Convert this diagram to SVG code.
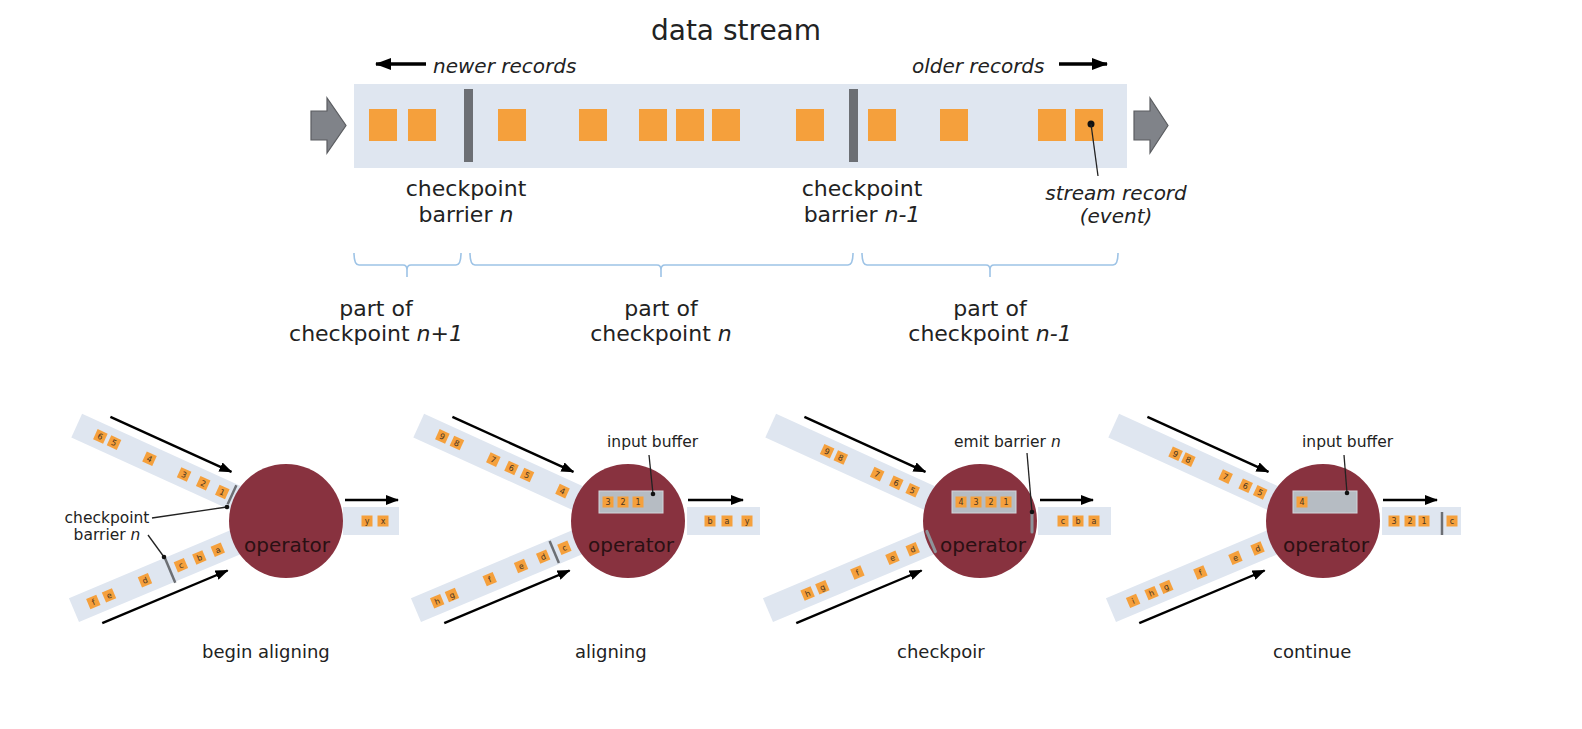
<svg xmlns="http://www.w3.org/2000/svg" xmlns:xlink="http://www.w3.org/1999/xlink" width="1582" height="729" viewBox="0 0 1582 729">
<style>
text{font-family:"DejaVu Sans","Liberation Sans",sans-serif;fill:#222}
.title{font-size:28px;text-anchor:middle}
.lbl{font-size:22px;text-anchor:middle}
.it{font-style:italic}
.note{font-size:20px;font-style:italic}
.small{font-size:15.5px}
.cap{font-size:18px}
.op{font-size:20px;text-anchor:middle;fill:#2a1013}
.sl{font-size:8px;text-anchor:middle;fill:#4a3520}
.band{fill:#dfe6f0}
.rec{fill:#f5a03c}
.sq{fill:#f5a03c}
.bar{fill:#6c6f74}
.barl{stroke:#6c6f74;stroke-width:2.5;fill:none}
.barlite{stroke:#8e939a;stroke-width:3;fill:none;stroke-linecap:round}
.brace{fill:none;stroke:#9dc3e6;stroke-width:1.6}
.arr{stroke:#000;stroke-width:2.4;fill:none;marker-end:url(#ah)}
.arrT{stroke:#000;stroke-width:3.5;fill:none;marker-end:url(#ahT)}
.lead{stroke:#222;stroke-width:1.3;fill:none}
.dot{fill:#111}
.op-c{fill:#88323f}
.buf{fill:#b6bcc3;stroke:#d2d6db;stroke-width:1}
.garrow{fill:#808389;stroke:#5b5d61;stroke-width:1.2}
</style>
<defs>
<marker id="ah" markerUnits="userSpaceOnUse" markerWidth="13" markerHeight="10" refX="12" refY="5" orient="auto">
<path d="M0,0 L13,5 L0,10 Z" fill="#000"/>
</marker>
<marker id="ahT" markerUnits="userSpaceOnUse" markerWidth="16" markerHeight="12" refX="15" refY="6" orient="auto">
<path d="M0,0 L16,6 L0,12 Z" fill="#000"/>
</marker>
<g id="upperIn">
<rect class="band" x="-230" y="-13" width="195" height="26"/>
<line class="arr" x1="-203" y1="-22" x2="-70" y2="-22"/>
</g>
<g id="lowerIn">
<rect class="band" x="-230" y="-13" width="195" height="26"/>
<line class="arr" x1="-209" y1="23" x2="-73" y2="23"/>
</g>
<g id="sqr"><rect class="sq" x="-5.5" y="-5.5" width="11" height="11"/></g>
</defs>

<!-- top: data stream -->
<g id="stream">
<text class="title" x="736" y="40">data stream</text>
<rect class="band" x="354" y="84" width="773" height="84"/>
<polygon class="garrow" points="311,111 327,111 327,98 346,125.5 327,153 327,140 311,140"/>
<polygon class="garrow" points="1134,111 1150,111 1150,98 1168,125.5 1150,153 1150,140 1134,140"/>
<g id="records">
<rect class="rec" x="369" y="109" width="28" height="32"/>
<rect class="rec" x="408" y="109" width="28" height="32"/>
<rect class="rec" x="498" y="109" width="28" height="32"/>
<rect class="rec" x="579" y="109" width="28" height="32"/>
<rect class="rec" x="639" y="109" width="28" height="32"/>
<rect class="rec" x="676" y="109" width="28" height="32"/>
<rect class="rec" x="712" y="109" width="28" height="32"/>
<rect class="rec" x="796" y="109" width="28" height="32"/>
<rect class="rec" x="868" y="109" width="28" height="32"/>
<rect class="rec" x="940" y="109" width="28" height="32"/>
<rect class="rec" x="1038" y="109" width="28" height="32"/>
<rect class="rec" x="1075" y="109" width="28" height="32"/>
</g>
<rect id="barrier-n" class="bar" x="464" y="89" width="9" height="73"/>
<rect id="barrier-n1" class="bar" x="849" y="89" width="9" height="73"/>
</g>

<g id="newer">
<line class="arrT" x1="426" y1="64" x2="376" y2="64"/>
<text class="note" x="433" y="73">newer records</text>
</g>
<g id="older">
<text class="note" x="912" y="73">older records</text>
<line class="arrT" x1="1059" y1="64" x2="1107" y2="64"/>
</g>

<g id="lbl-barrier-n">
<text class="lbl" x="466" y="196">checkpoint</text>
<text class="lbl" x="466" y="222">barrier <tspan class="it">n</tspan></text>
</g>
<g id="lbl-barrier-n1">
<text class="lbl" x="862" y="196">checkpoint</text>
<text class="lbl" x="862" y="222">barrier <tspan class="it">n-1</tspan></text>
</g>
<g id="lbl-record">
<circle class="dot" cx="1091" cy="124" r="3.5"/>
<line class="lead" x1="1091" y1="124" x2="1098" y2="176"/>
<text class="note" x="1116" y="200" text-anchor="middle">stream record</text>
<text class="note" x="1116" y="223" text-anchor="middle">(event)</text>
</g>

<g id="braces">
<path class="brace" d="M354,253 Q354,265 359,265 H403 Q407,265 407,270 V277 M407,270 Q407,265 411,265 H456 Q461,265 461,253"/>
<path class="brace" d="M470,253 Q470,265 475,265 H657 Q661,265 661,270 V277 M661,270 Q661,265 665,265 H848 Q853,265 853,253"/>
<path class="brace" d="M862,253 Q862,265 867,265 H986 Q990,265 990,270 V277 M990,270 Q990,265 994,265 H1113 Q1118,265 1118,253"/>
</g>
<g id="part-n1">
<text class="lbl" x="376" y="316">part of</text>
<text class="lbl" x="376" y="341">checkpoint <tspan class="it">n+1</tspan></text>
</g>
<g id="part-n">
<text class="lbl" x="661" y="316">part of</text>
<text class="lbl" x="661" y="341">checkpoint <tspan class="it">n</tspan></text>
</g>
<g id="part-nm1">
<text class="lbl" x="990" y="316">part of</text>
<text class="lbl" x="990" y="341">checkpoint <tspan class="it">n-1</tspan></text>
</g>

<!-- panel 1: begin aligning -->
<g id="panel-begin" transform="translate(286,521)">
<g transform="rotate(24.5)">
<use xlink:href="#upperIn"/>
<g transform="translate(-204,0)"><use xlink:href="#sqr"/><text class="sl" y="3">6</text></g>
<g transform="translate(-189,0)"><use xlink:href="#sqr"/><text class="sl" y="3">5</text></g>
<g transform="translate(-150,0)"><use xlink:href="#sqr"/><text class="sl" y="3">4</text></g>
<g transform="translate(-112,0)"><use xlink:href="#sqr"/><text class="sl" y="3">3</text></g>
<g transform="translate(-91,0)"><use xlink:href="#sqr"/><text class="sl" y="3">2</text></g>
<g transform="translate(-70,0)"><use xlink:href="#sqr"/><text class="sl" y="3">1</text></g>
<line class="barl" x1="-60" y1="-12" x2="-60" y2="9"/>
</g>
<g transform="rotate(-22.8)">
<use xlink:href="#lowerIn"/>
<g transform="translate(-209,0)"><use xlink:href="#sqr"/><text class="sl" y="3">f</text></g>
<g transform="translate(-192,0)"><use xlink:href="#sqr"/><text class="sl" y="3">e</text></g>
<g transform="translate(-153,0)"><use xlink:href="#sqr"/><text class="sl" y="3">d</text></g>
<g transform="translate(-114,0)"><use xlink:href="#sqr"/><text class="sl" y="3">c</text></g>
<g transform="translate(-94,0)"><use xlink:href="#sqr"/><text class="sl" y="3">b</text></g>
<g transform="translate(-74,0)"><use xlink:href="#sqr"/><text class="sl" y="3">a</text></g>
<line class="barl" x1="-126" y1="-13" x2="-126" y2="14"/>
</g>
<rect class="band" x="57" y="-14" width="56" height="28"/>
<line class="arr" x1="59" y1="-21" x2="112" y2="-21"/>
<g transform="translate(81,0)"><use xlink:href="#sqr"/><text class="sl" y="3">y</text></g>
<g transform="translate(97,0)"><use xlink:href="#sqr"/><text class="sl" y="3">x</text></g>
<circle class="op-c" cx="0" cy="0" r="57"/>
<text class="op" x="1" y="31">operator</text>
</g>
<g id="callout-barrier">
<text class="small" x="107" y="523" text-anchor="middle">checkpoint</text>
<text class="small" x="107" y="540" text-anchor="middle">barrier <tspan class="it">n</tspan></text>
<line class="lead" x1="152" y1="518" x2="227" y2="507"/>
<circle class="dot" cx="227" cy="507" r="2.3"/>
<line class="lead" x1="148" y1="535" x2="164" y2="557"/>
<circle class="dot" cx="164" cy="557" r="2.3"/>
</g>
<text id="cap-begin" class="cap" x="202" y="658">begin aligning</text>

<!-- panel 2: aligning -->
<g id="panel-aligning" transform="translate(628,521)">
<g transform="rotate(24.5)">
<use xlink:href="#upperIn"/>
<g transform="translate(-204,0)"><use xlink:href="#sqr"/><text class="sl" y="3">9</text></g>
<g transform="translate(-188,0)"><use xlink:href="#sqr"/><text class="sl" y="3">8</text></g>
<g transform="translate(-148,0)"><use xlink:href="#sqr"/><text class="sl" y="3">7</text></g>
<g transform="translate(-128,0)"><use xlink:href="#sqr"/><text class="sl" y="3">6</text></g>
<g transform="translate(-111,0)"><use xlink:href="#sqr"/><text class="sl" y="3">5</text></g>
<g transform="translate(-72,0)"><use xlink:href="#sqr"/><text class="sl" y="3">4</text></g>
</g>
<g transform="rotate(-22.8)">
<use xlink:href="#lowerIn"/>
<g transform="translate(-207,0)"><use xlink:href="#sqr"/><text class="sl" y="3">h</text></g>
<g transform="translate(-191,0)"><use xlink:href="#sqr"/><text class="sl" y="3">g</text></g>
<g transform="translate(-150,0)"><use xlink:href="#sqr"/><text class="sl" y="3">f</text></g>
<g transform="translate(-116,0)"><use xlink:href="#sqr"/><text class="sl" y="3">e</text></g>
<g transform="translate(-92,0)"><use xlink:href="#sqr"/><text class="sl" y="3">d</text></g>
<g transform="translate(-69,0)"><use xlink:href="#sqr"/><text class="sl" y="3">c</text></g>
<line class="barl" x1="-80" y1="-12" x2="-80" y2="12"/>
</g>
<rect class="band" x="59" y="-14" width="73" height="28"/>
<line class="arr" x1="60" y1="-21" x2="115" y2="-21"/>
<g transform="translate(82,0)"><use xlink:href="#sqr"/><text class="sl" y="3">b</text></g>
<g transform="translate(99,0)"><use xlink:href="#sqr"/><text class="sl" y="3">a</text></g>
<g transform="translate(119,0)"><use xlink:href="#sqr"/><text class="sl" y="3">y</text></g>
<circle class="op-c" cx="0" cy="0" r="57"/>
<rect class="buf" x="-29" y="-30" width="64" height="22"/>
<g transform="translate(-20,-19)"><use xlink:href="#sqr"/><text class="sl" y="3">3</text></g>
<g transform="translate(-5,-19)"><use xlink:href="#sqr"/><text class="sl" y="3">2</text></g>
<g transform="translate(10,-19)"><use xlink:href="#sqr"/><text class="sl" y="3">1</text></g>
<line class="lead" x1="21" y1="-66" x2="25" y2="-27"/>
<circle class="dot" cx="25" cy="-27" r="2.3"/>
<text class="small" x="-21" y="-74">input buffer</text>
<text class="op" x="3" y="31">operator</text>
</g>
<text id="cap-aligning" class="cap" x="575" y="658">aligning</text>

<!-- panel 3: checkpoint -->
<g id="panel-checkpoint" transform="translate(980,521)">
<g transform="rotate(24.5)">
<use xlink:href="#upperIn"/>
<g transform="translate(-168,0)"><use xlink:href="#sqr"/><text class="sl" y="3">9</text></g>
<g transform="translate(-153,0)"><use xlink:href="#sqr"/><text class="sl" y="3">8</text></g>
<g transform="translate(-113,0)"><use xlink:href="#sqr"/><text class="sl" y="3">7</text></g>
<g transform="translate(-92,0)"><use xlink:href="#sqr"/><text class="sl" y="3">6</text></g>
<g transform="translate(-74,0)"><use xlink:href="#sqr"/><text class="sl" y="3">5</text></g>
</g>
<g transform="rotate(-22.8)">
<use xlink:href="#lowerIn"/>
<g transform="translate(-187,0)"><use xlink:href="#sqr"/><text class="sl" y="3">h</text></g>
<g transform="translate(-171,0)"><use xlink:href="#sqr"/><text class="sl" y="3">g</text></g>
<g transform="translate(-133,0)"><use xlink:href="#sqr"/><text class="sl" y="3">f</text></g>
<g transform="translate(-95,0)"><use xlink:href="#sqr"/><text class="sl" y="3">e</text></g>
<g transform="translate(-73,0)"><use xlink:href="#sqr"/><text class="sl" y="3">d</text></g>
</g>
<rect class="band" x="58" y="-14" width="73" height="28"/>
<line class="arr" x1="60" y1="-21" x2="113" y2="-21"/>
<g transform="translate(83,0)"><use xlink:href="#sqr"/><text class="sl" y="3">c</text></g>
<g transform="translate(98,0)"><use xlink:href="#sqr"/><text class="sl" y="3">b</text></g>
<g transform="translate(114,0)"><use xlink:href="#sqr"/><text class="sl" y="3">a</text></g>
<circle class="op-c" cx="0" cy="0" r="57"/>
<g transform="rotate(-22.8)"><line class="barlite" x1="-53" y1="-11" x2="-53" y2="11"/></g>
<rect class="buf" x="-28" y="-30" width="64" height="22"/>
<g transform="translate(-19,-19)"><use xlink:href="#sqr"/><text class="sl" y="3">4</text></g>
<g transform="translate(-4,-19)"><use xlink:href="#sqr"/><text class="sl" y="3">3</text></g>
<g transform="translate(11,-19)"><use xlink:href="#sqr"/><text class="sl" y="3">2</text></g>
<g transform="translate(26,-19)"><use xlink:href="#sqr"/><text class="sl" y="3">1</text></g>
<line class="barlite" x1="52" y1="-9" x2="52" y2="11"/>
<line class="lead" x1="47" y1="-68" x2="52" y2="-9"/>
<circle class="dot" cx="52" cy="-9" r="2.3"/>
<text class="small" x="-26" y="-74">emit barrier <tspan class="it">n</tspan></text>
<text class="op" x="3" y="31">operator</text>
</g>
<text id="cap-checkpoint" class="cap" x="897" y="658">checkpoir</text>

<!-- panel 4: continue -->
<g id="panel-continue" transform="translate(1323,521)">
<g transform="rotate(24.5)">
<use xlink:href="#upperIn"/>
<g transform="translate(-162,0)"><use xlink:href="#sqr"/><text class="sl" y="3">9</text></g>
<g transform="translate(-148,0)"><use xlink:href="#sqr"/><text class="sl" y="3">8</text></g>
<g transform="translate(-107,0)"><use xlink:href="#sqr"/><text class="sl" y="3">7</text></g>
<g transform="translate(-85,0)"><use xlink:href="#sqr"/><text class="sl" y="3">6</text></g>
<g transform="translate(-69,0)"><use xlink:href="#sqr"/><text class="sl" y="3">5</text></g>
</g>
<g transform="rotate(-22.8)">
<use xlink:href="#lowerIn"/>
<g transform="translate(-206,0)"><use xlink:href="#sqr"/><text class="sl" y="3">i</text></g>
<g transform="translate(-186,0)"><use xlink:href="#sqr"/><text class="sl" y="3">h</text></g>
<g transform="translate(-170,0)"><use xlink:href="#sqr"/><text class="sl" y="3">g</text></g>
<g transform="translate(-133,0)"><use xlink:href="#sqr"/><text class="sl" y="3">f</text></g>
<g transform="translate(-95,0)"><use xlink:href="#sqr"/><text class="sl" y="3">e</text></g>
<g transform="translate(-71,0)"><use xlink:href="#sqr"/><text class="sl" y="3">d</text></g>
</g>
<rect class="band" x="59" y="-14" width="79" height="28"/>
<line class="arr" x1="60" y1="-21" x2="114" y2="-21"/>
<g transform="translate(71,0)"><use xlink:href="#sqr"/><text class="sl" y="3">3</text></g>
<g transform="translate(87,0)"><use xlink:href="#sqr"/><text class="sl" y="3">2</text></g>
<g transform="translate(101,0)"><use xlink:href="#sqr"/><text class="sl" y="3">1</text></g>
<line class="barl" x1="119" y1="-9" x2="119" y2="14"/>
<g transform="translate(129,0)"><use xlink:href="#sqr"/><text class="sl" y="3">c</text></g>
<circle class="op-c" cx="0" cy="0" r="57"/>
<rect class="buf" x="-30" y="-30" width="64" height="22"/>
<g transform="translate(-21,-19)"><use xlink:href="#sqr"/><text class="sl" y="3">4</text></g>
<line class="lead" x1="21" y1="-66" x2="24" y2="-28"/>
<circle class="dot" cx="24" cy="-28" r="2.3"/>
<text class="small" x="-21" y="-74">input buffer</text>
<text class="op" x="3" y="31">operator</text>
</g>
<text id="cap-continue" class="cap" x="1273" y="658">continue</text>
</svg>
